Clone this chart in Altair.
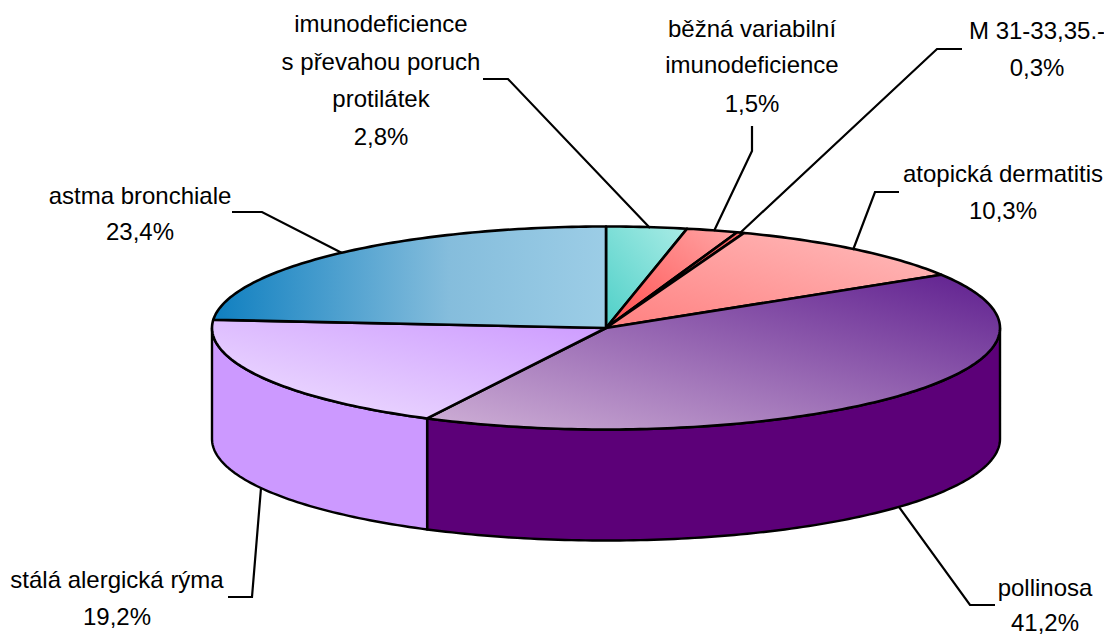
import math
import altair as alt

# Slices clockwise from 12 o'clock
names = ["imunodeficience s převahou poruch protilátek", "běžná variabilní imunodeficience",
         "M 31-33,35.-", "atopická dermatitis", "pollinosa", "stálá alergická rýma", "astma bronchiale"]
labelled = [2.8, 1.5, 0.3, 10.3, 41.2, 19.2, 23.4]
drawn_share = [3.3, 2.1, 0.3, 10.5, 41.3, 18.8, 23.7]

top_colors = [
    ([(0, "#4fd0c8"), (1, "#aaece6")], 0, 1, 1, 0),
    ([(0, "#ff4d4d"), (1, "#ffa6a6")], 0, 1, 1, 0),
    ([(0, "#cc3333"), (1, "#ff6666")], 0, 1, 1, 0),
    ([(0, "#ff8080"), (1, "#ffbdbd")], 0, 1, 1, 0),
    ([(0, "#cfb0d6"), (1, "#5f1f8f")], 0, 1, 1, 0),
    ([(0, "#f0e2ff"), (1, "#cc99ff")], 0, 1, 1, 0),
    ([(0, "#0f7fc0"), (0.6, "#85bddc"), (1, "#9ccde6")], 0, 0, 1, 0),
]
side_colors = [None, None, None, None, "#5c0078", "#cc99ff", None]

CX, CY, RX, RY, DEPTH = 606, 328, 394, 101.5, 111
OFF = 8


def pt(deg, dy=0):
    a = math.radians(deg)
    return [CX + RX * math.sin(a), CY - RY * math.cos(a) + dy]


def arc(a0, a1, dy=0):
    n = max(2, int(abs(a1 - a0)) + 2)
    return [pt(a0 + (a1 - a0) * i / (n - 1), dy) for i in range(n)]


def feature(kind, coords):
    return {"type": "Feature", "properties": {}, "geometry": {"type": kind, "coordinates": coords}}


PROJ = dict(type="identity", scale=1, translate=[-OFF, -OFF])
layers = []
edges = [0]
for s in drawn_share:
    edges.append(edges[-1] + s * 360 / sum(drawn_share))

# Side walls
for i, col in enumerate(side_colors):
    if col is None:
        continue
    a0, a1 = max(edges[i], 90), min(edges[i + 1], 270)
    ring = arc(a0, a1) + arc(a1, a0, DEPTH)
    ring.append(ring[0])
    layers.append(alt.Chart(alt.Data(values=[feature("Polygon", [ring])]))
                  .mark_geoshape(fill=col, stroke="black", strokeWidth=2.4, strokeJoin="round")
                  .project(**PROJ))

# Top slices
for i, (stops, x1, y1, x2, y2) in enumerate(top_colors):
    ring = [[CX, CY]] + arc(edges[i], edges[i + 1]) + [[CX, CY]]
    grad = alt.Gradient(gradient="linear", x1=x1, y1=y1, x2=x2, y2=y2,
                        stops=[alt.GradientStop(offset=o, color=c) for o, c in stops])
    layers.append(alt.Chart(alt.Data(values=[feature("Polygon", [ring])]))
                  .mark_geoshape(fill=grad, stroke="black", strokeWidth=2.6, strokeJoin="round")
                  .project(**PROJ))

# Leader lines
leaders = [
    [[483, 79], [508, 79], [650, 228]],
    [[752, 126], [752, 151], [714, 231]],
    [[962, 49], [937, 49], [740, 233]],
    [[899, 192], [875, 192], [853, 250]],
    [[995, 605], [970, 605], [899, 507]],
    [[228, 597], [252, 597], [261, 488]],
    [[232, 212], [262, 212], [342, 253]],
]
for line in leaders:
    layers.append(alt.Chart(alt.Data(values=[feature("LineString", line)]))
                  .mark_geoshape(filled=False, stroke="black", strokeWidth=2.2, strokeJoin="miter")
                  .project(**PROJ))

# Text
text_rows = [
    ("imunodeficience", 381, 25), ("s převahou poruch", 381, 63), ("protilátek", 381, 100), ("2,8%", 381, 138),
    ("běžná variabilní", 752, 30), ("imunodeficience", 752, 66), ("1,5%", 752, 105),
    ("M  31-33,35.-", 1037, 32), ("0,3%", 1037, 69),
    ("atopická dermatitis", 1003, 175), ("10,3%", 1003, 212),
    ("astma bronchiale", 140, 197), ("23,4%", 140, 233),
    ("stálá alergická rýma", 117, 581), ("19,2%", 117, 618),
    ("pollinosa", 1045, 589), ("41,2%", 1045, 624),
]
text_data = [{"t": t, "lon": x, "lat": y} for t, x, y in text_rows]
layers.append(alt.Chart(alt.Data(values=text_data))
              .mark_text(font="Liberation Sans", fontSize=24, color="#000000", align="center", baseline="middle")
              .encode(longitude="lon:Q", latitude="lat:Q", text="t:N")
              .project(**PROJ))

chart = (alt.layer(*layers)
         .properties(width=1096, height=628, padding=0, background="white")
         .configure_view(stroke=None))
chart.save("out.html", embed_options={"renderer": "svg", "actions": False})
